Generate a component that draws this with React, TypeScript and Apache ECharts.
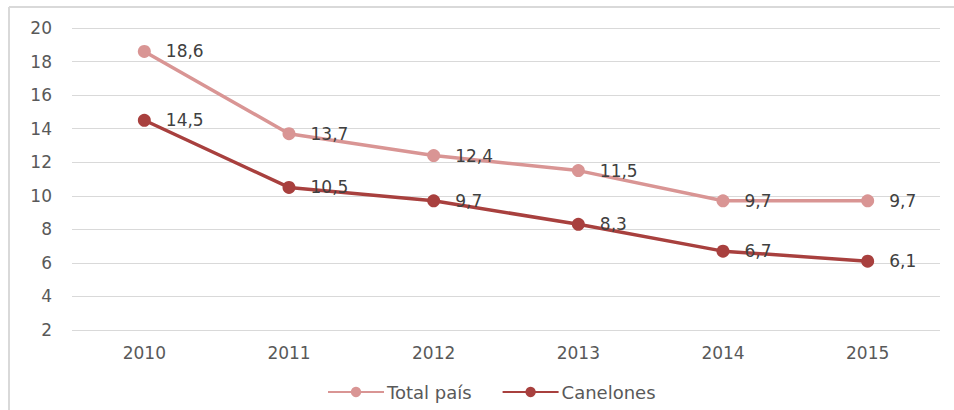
import React, { useEffect, useRef } from "react";
import * as echarts from "echarts";

const categories = ["2010", "2011", "2012", "2013", "2014", "2015"];
const totalPais = [18.6, 13.7, 12.4, 11.5, 9.7, 9.7];
const canelones = [14.5, 10.5, 9.7, 8.3, 6.7, 6.1];
const seriesNames = ["Total país", "Canelones"];

const FONT = "'DejaVu Sans', sans-serif";
const TEXT = "#595959";
const LABEL = "#404040";

export default function App() {
  const ref = useRef<HTMLDivElement>(null);
  useEffect(() => {
    document.body.style.margin = "0";
    const chart = echarts.init(ref.current!, null, { renderer: "svg" });
    const label = {
      show: true,
      position: "right" as const,
      distance: 15,
      color: LABEL,
      fontSize: 17,
      fontFamily: FONT,
      formatter: (p: any) => String(p.value).replace(".", ","),
    };
    chart.setOption({
      animation: false,
      backgroundColor: "#ffffff",
      textStyle: { fontFamily: FONT },
      graphic: [
        { type: "line", shape: { x1: 9, y1: 7, x2: 954, y2: 7 }, style: { stroke: "#d9d9d9", lineWidth: 2 } },
        { type: "line", shape: { x1: 9, y1: 7, x2: 9, y2: 410 }, style: { stroke: "#d9d9d9", lineWidth: 2 } },
      ],
      grid: { left: 72, right: 14, top: 28, bottom: 80, containLabel: false },
      legend: {
        data: seriesNames,
        top: 378,
        left: 322,
        itemWidth: 56,
        itemHeight: 13,
        itemGap: 30,
        textStyle: { color: TEXT, fontSize: 18, fontFamily: FONT, padding: [0, 0, 0, -2] },
      },
      xAxis: {
        type: "category",
        data: categories,
        boundaryGap: true,
        axisLine: { show: false },
        axisTick: { show: false },
        axisLabel: { color: TEXT, fontSize: 17, fontFamily: FONT, margin: 14 },
      },
      yAxis: {
        type: "value",
        min: 2,
        max: 20,
        interval: 2,
        axisLine: { show: false },
        axisTick: { show: false },
        axisLabel: { color: TEXT, fontSize: 17, fontFamily: FONT, margin: 20 },
        splitLine: { lineStyle: { color: "#d9d9d9", width: 1 } },
      },
      series: [
        {
          name: seriesNames[0],
          type: "line",
          data: totalPais,
          symbol: "circle",
          symbolSize: 13,
          color: "#d99594",
          lineStyle: { width: 3.5, color: "#d99594" },
          itemStyle: { color: "#d99594" },
          label,
        },
        {
          name: seriesNames[1],
          type: "line",
          data: canelones,
          symbol: "circle",
          symbolSize: 13,
          color: "#a8403e",
          lineStyle: { width: 3.5, color: "#a8403e" },
          itemStyle: { color: "#a8403e" },
          label,
        },
      ],
    });
    return () => chart.dispose();
  }, []);
  return <div ref={ref} style={{ width: 954, height: 410 }} />;
}
